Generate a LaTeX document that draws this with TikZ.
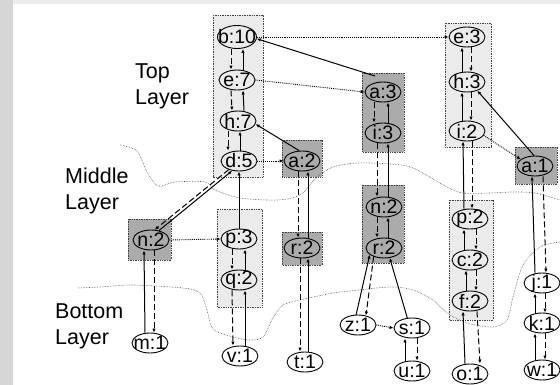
\documentclass[tikz,border=0pt]{standalone}
\usepackage{fontspec}
\setmainfont{Liberation Sans}
\usetikzlibrary{arrows.meta,shapes.geometric}
\newcommand\pairlink[6]{%
  \draw[dsh] ([xshift=#3pt]#1.south) -- ([xshift=#4pt]#2.north);
  \draw[sol] ([xshift=#6pt]#2.north) -- ([xshift=#5pt]#1.south);}
\newcommand\pairlinkB[6]{%
  \draw[sol] ([xshift=#4pt]#2.north) -- ([xshift=#3pt]#1.south);
  \draw[dsh] ([xshift=#5pt]#1.south) -- ([xshift=#6pt]#2.north);}
\begin{document}
\begin{tikzpicture}[x=1pt,y=-1pt,
  nd/.style={ellipse,draw,line width=0.9pt,minimum width=36pt,minimum height=20pt,
    inner xsep=-7pt,inner ysep=-4pt,font=\fontsize{19.5}{19.5}\selectfont},
  lbl/.style={anchor=base west,inner sep=0pt,font=\fontsize{21.5}{21.5}\selectfont},
  lbox/.style={fill=black!8,draw=black!75,densely dotted,line width=0.7pt},
  dbox/.style={fill=black!33,draw=black!75,densely dotted,line width=0.7pt},
  sol/.style={line width=1pt,-{Latex[length=4pt,width=3.4pt]}},
  dsh/.style={line width=1pt,dash pattern=on 6pt off 3pt,-{Latex[length=4pt,width=3.4pt]}},
  dot/.style={line width=0.9pt,densely dotted,-{Latex[length=4pt,width=3.4pt]}},
  bnd/.style={line width=0.6pt,densely dotted,black!70}]
\useasboundingbox (0,0) rectangle (560,385);
% scan edges
\fill[black!16] (0,0) rectangle (13,385);
\fill[black!8] (13,0) rectangle (560,4);
% group boxes
\draw[lbox] (213,15) rectangle (263,177);
\draw[dbox] (362,73) rectangle (404,152);
\draw[lbox] (445,23) rectangle (491,147);
\draw[dbox] (282,140) rectangle (322,177);
\draw[dbox] (515,147) rectangle (557,184);
\draw[dbox] (128,219) rectangle (171,260);
\draw[lbox] (217,209) rectangle (262,307);
\draw[dbox] (282,232) rectangle (322,265);
\draw[dbox] (362,185) rectangle (404,263);
\draw[lbox] (449,200) rectangle (493,320);
% layer boundaries
\draw[bnd] plot[smooth,tension=0.5] coordinates {(120,145) (137,151) (147,172) (158,186) (175,182) (205,182) (215,190) (240,198) (277,200) (300,195) (317,177) (333,167) (357,163) (390,164) (413,168) (447,187) (463,193) (490,193) (513,192) (535,193) (560,200)};
\draw[bnd] plot[smooth,tension=0.5] coordinates {(78,288) (100,287) (133,285) (183,288) (200,293) (207,310) (213,329) (233,337) (250,340) (263,337) (273,318) (283,305) (300,300) (333,293) (350,291) (390,287) (413,290) (433,300) (447,313) (467,323) (493,327) (507,320) (513,297) (523,265) (540,247) (560,242)};
% labels
\node[lbl] (top1) at (135,79) {Top};
\node[lbl] (top2) at (135,105) {Layer};
\node[lbl] (mid1) at (65,184) {Middle};
\node[lbl] (mid2) at (65,210) {Layer};
\node[lbl] (bot1) at (55,318) {Bottom};
\node[lbl] (bot2) at (55,344) {Layer};
% nodes
\node[nd,minimum width=39pt,minimum height=23pt] (b10) at (237,37) {b:10};
\node[nd] (e7) at (237,80) {e:7};
\node[nd] (h7) at (238,121) {h:7};
\node[nd] (d5) at (239,161) {d:5};
\node[nd] (a3) at (383,92) {a:3};
\node[nd] (i3) at (383,133) {i:3};
\node[nd] (e3) at (467,37) {e:3};
\node[nd] (h3) at (467,82) {h:3};
\node[nd] (i2) at (467,131) {i:2};
\node[nd] (a2) at (302,161) {a:2};
\node[nd] (a1) at (535,166) {a:1};
\node[nd] (n2L) at (151,240) {n:2};
\node[nd] (p3) at (239,239) {p:3};
\node[nd] (q2) at (239,280) {q:2};
\node[nd] (r2L) at (302,248) {r:2};
\node[nd] (n2R) at (384,207) {n:2};
\node[nd] (r2R) at (384,248) {r:2};
\node[nd] (z1) at (358,325) {z:1};
\node[nd] (s1) at (412,328) {s:1};
\node[nd] (u1) at (412,371) {u:1};
\node[nd] (p2) at (470,219) {p:2};
\node[nd] (c2) at (470,260) {c:2};
\node[nd] (f2) at (470,301) {f:2};
\node[nd] (o1) at (470,374) {o:1};
\node[nd] (j1) at (542,283) {j:1};
\node[nd] (k1) at (542,323) {k:1};
\node[nd] (w1) at (542,370) {w:1};
\node[nd] (m1) at (150,343) {m:1};
\node[nd] (v1) at (240,356) {v:1};
\node[nd] (t1) at (305,362) {t:1};
\coordinate (a3t) at (375,76);
% paired links: dashed down on the left, solid up on the right
\pairlink{b10}{e7}{-6}{-6}{6}{6}
\pairlink{e7}{h7}{-6}{-6}{6}{6}
\pairlink{h7}{d5}{-10}{-11}{2}{1}
\pairlink{a3}{i3}{-9}{-9}{5}{5}
\pairlink{i3}{n2R}{-6}{-7}{5}{4}
\pairlink{n2R}{r2R}{-7}{-7}{4}{4}
\pairlink{a2}{r2L}{-4}{-4}{6}{6}
\pairlink{r2L}{t1}{-2}{-5}{6}{3}
\pairlink{p3}{q2}{-7}{-7}{6}{6}
\pairlink{q2}{v1}{-7}{-7}{6}{5}
% paired links: solid up on the left, dashed down on the right
\pairlinkB{e3}{h3}{-5}{-5}{4}{4}
\pairlinkB{h3}{i2}{-5}{-5}{4}{4}
\pairlinkB{i2}{p2}{-4}{-6}{5}{2}
\pairlinkB{p2}{c2}{-6}{-6}{6}{6}
\pairlinkB{c2}{f2}{-4}{-4}{6}{6}
\pairlinkB{f2}{o1}{-7}{-5}{7}{10}
\pairlinkB{a1}{j1}{-3}{-7}{8}{4}
\pairlinkB{j1}{k1}{-7}{-7}{3}{3}
\pairlinkB{k1}{w1}{-7}{-7}{3}{3}
\pairlinkB{s1}{u1}{-7}{-7}{5}{5}
\pairlinkB{n2L}{m1}{-7}{-5}{3}{4}
% single links
\draw[dsh] (d5.220) -- (n2L.70);
\draw[sol] (n2L.50) -- (d5.235);
\draw[sol] (p3.north) -- (d5.south);
\draw[sol] (a2.105) -- (h7.350);
\draw[sol] (a3t) -- (b10.355);
\draw[sol] (a1.95) -- (h3.320);
\draw[sol] (z1.100) -- (r2R.205);
\draw[dsh] (r2R.220) -- (z1.50);
\draw[sol] (s1.115) -- (r2R.300);
% dotted links
\draw[dot] (b10.east) -- (e3.west);
\draw[dot] (e7.east) -- (a3.west);
\draw[dot] (d5.east) -- (a2.west);
\draw[dot] (n2L.east) -- (p3.west);
\draw[dot] (i2.345) -- (a1.155);
\draw[dot] (z1.east) -- (s1.west);
\end{tikzpicture}
\end{document}
